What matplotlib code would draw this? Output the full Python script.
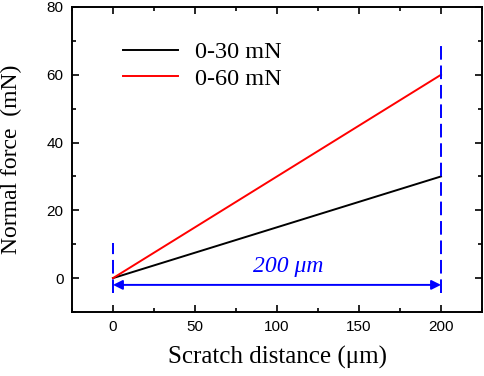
import numpy as np
import matplotlib
matplotlib.use("Agg")
import matplotlib.pyplot as plt
from matplotlib.ticker import MultipleLocator

# data
dist = [0, 200]
force_30 = [0, 30]
force_60 = [0, 60]
labels = ["0-30 mN", "0-60 mN"]
span = [0, 200]

serif = "Liberation Serif"
sans = "Liberation Sans"

fig = plt.figure(figsize=(4.84, 3.76), dpi=100)
ax = fig.add_axes([72/484, 1-312/376, (482-72)/484, (312-7)/376])

ax.plot(dist, force_30, color="black", lw=1.4, label=labels[0])
ax.plot(dist, force_60, color="red", lw=1.4, label=labels[1])

# blue markers of the scratch span
ax.plot([span[0], span[0]], [-4.4, 10.3], color="blue", lw=1.4, ls=(0, (7, 3)))
ax.plot([span[1], span[1]], [-4.4, 69.3], color="blue", lw=1.4, ls=(0, (7, 3)))
ax.annotate("", xy=(span[1], -2), xytext=(span[0], -2),
            arrowprops=dict(arrowstyle="<|-|>", color="blue", lw=1.4,
                            mutation_scale=14, shrinkA=0, shrinkB=0))
ax.text(107, 3.3, "200 μm", color="blue", fontsize=17, fontstyle="italic",
        family=serif, ha="center", va="center")

ax.set_xlim(-25, 225)
ax.set_ylim(-10, 80)
ax.xaxis.set_major_locator(MultipleLocator(50))
ax.xaxis.set_minor_locator(MultipleLocator(25))
ax.yaxis.set_major_locator(MultipleLocator(20))
ax.yaxis.set_minor_locator(MultipleLocator(10))
ax.tick_params(which="both", direction="in", top=True, right=True, width=1.2)
ax.tick_params(which="major", length=5, labelsize=11, pad=6)
ax.tick_params(which="minor", length=3)
for lab in ax.get_xticklabels() + ax.get_yticklabels():
    lab.set_family(sans)
for s in ax.spines.values():
    s.set_linewidth(1.4)

ax.set_xlabel("Scratch distance (μm)", family=serif, fontsize=18, labelpad=8)
ax.set_ylabel("Normal force  (mN)", family=serif, fontsize=17, labelpad=18)

ax.legend(loc="upper left", bbox_to_anchor=(0.07, 0.96), frameon=False,
          prop={"family": serif, "size": 17.5}, handlelength=2.3,
          handletextpad=0.7, labelspacing=0.2)

fig.savefig("out.png", dpi=100)
